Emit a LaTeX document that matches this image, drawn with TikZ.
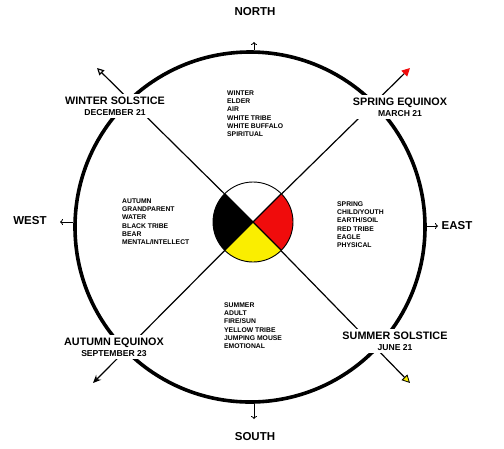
\documentclass[tikz,border=0pt]{standalone}
\usepackage{fontspec}
\setmainfont{Liberation Sans}
\usetikzlibrary{arrows.meta, positioning}
\definecolor{cRed}{RGB}{240,12,12}
\definecolor{cYellow}{RGB}{250,238,0}
\tikzset{
	ring/.style   ={circle, draw=black, line width=3.6pt, minimum size=350pt, inner sep=0pt},
	diag/.style   ={line width=1.2pt},
	season/.style ={fill=white, align=center, inner sep=2.5pt, font=\bfseries\fontsize{10.8}{12}\selectfont},
	attr/.style   ={align=left, inner sep=0pt, anchor=north west, font=\bfseries\fontsize{6.8}{8.2}\selectfont},
	dirlbl/.style ={font=\bfseries\fontsize{11.5}{13}\selectfont},
	ptr/.style    ={-{To[length=3pt,width=6pt]}, line width=0.8pt},
}
\newcommand{\seasondate}[1]{{\fontsize{8.6}{9}\selectfont #1}}

\begin{document}
\begin{tikzpicture}[x=1pt, y=1pt]
	\useasboundingbox (0,0) rectangle (504,-448);
	% wheel
	\node[ring] (wheel) at (250,-227) {};
	\coordinate (c) at (253,-222);
	\coordinate (nwtip) at (97,-68);
	\coordinate (netip) at (410,-68);
	\coordinate (setip) at (410,-383);
	\coordinate (swtip) at (93,-383);
	\draw[diag, -{Triangle[open, length=7pt, width=7pt, line width=1.2pt]}] (c) -- (nwtip);
	\draw[diag, -{Triangle[fill=cRed, color=cRed, length=8pt, width=8pt]}] (c) -- (netip);
	\draw[diag, -{Triangle[fill=cYellow, color=black, length=8pt, width=8pt, line width=0.8pt]}] (c) -- (setip);
	\draw[diag, -{Stealth[length=8pt, width=7pt]}] (c) -- (swtip);
	% medicine wheel quarters
	\fill[white]   (c) -- ++(45:40)  arc[start angle=45,  end angle=135, radius=40] -- cycle;
	\fill[cRed]    (c) -- ++(-45:40) arc[start angle=-45, end angle=45,  radius=40] -- cycle;
	\fill[cYellow] (c) -- ++(225:40) arc[start angle=225, end angle=315, radius=40] -- cycle;
	\fill[black]   (c) -- ++(135:40) arc[start angle=135, end angle=225, radius=40] -- cycle;
	\draw[line width=1.2pt] (c) -- ++(45:40) (c) -- ++(-45:40) (c) -- ++(135:40) (c) -- ++(225:40);
	\draw[line width=0.9pt] (c) circle[radius=40];
	% seasons
	\node[season] (winter) at (115,-106) {WINTER SOLSTICE\\[-1pt]\seasondate{DECEMBER 21}};
	\node[season] (spring) at (400,-107) {SPRING EQUINOX\\[-1pt]\seasondate{MARCH 21}};
	\node[season] (summer) at (395,-341) {SUMMER SOLSTICE\\[-1pt]\seasondate{JUNE 21}};
	\node[season] (autumn) at (114,-347) {AUTUMN EQUINOX\\[-1pt]\seasondate{SEPTEMBER 23}};
	% teachings
	\node[attr] (northtxt) at (227,-90.6) {WINTER\\ELDER\\AIR\\WHITE TRIBE\\WHITE BUFFALO\\SPIRITUAL};
	\node[attr] (westtxt) at (122,-198.6) {AUTUMN\\GRANDPARENT\\WATER\\BLACK TRIBE\\BEAR\\MENTAL/INTELLECT};
	\node[attr] (easttxt) at (337,-201.6) {SPRING\\CHILD/YOUTH\\EARTH/SOIL\\RED TRIBE\\EAGLE\\PHYSICAL};
	\node[attr] (southtxt) at (224,-302.6) {SUMMER\\ADULT\\FIRE/SUN\\YELLOW TRIBE\\JUMPING MOUSE\\EMOTIONAL};
	% directions
	\coordinate (ntip) at (254,-42);
	\coordinate (stip) at (254,-419);
	\coordinate (etip) at (438,-226);
	\coordinate (wtip) at (60,-222);
	\draw[ptr] (ntip |- wheel.north) -- (ntip);
	\draw[ptr] (stip |- wheel.south) -- (stip);
	\draw[ptr] (wheel.east |- etip) -- (etip);
	\draw[ptr] (wheel.west |- wtip) -- (wtip);
	\node[dirlbl] (north) at (255,-12) {NORTH};
	\node[dirlbl] (south) at (255,-437) {SOUTH};
	\node[dirlbl] (east) at (457,-226) {EAST};
	\node[dirlbl] (west) at (30,-221) {WEST};
\end{tikzpicture}
\end{document}
